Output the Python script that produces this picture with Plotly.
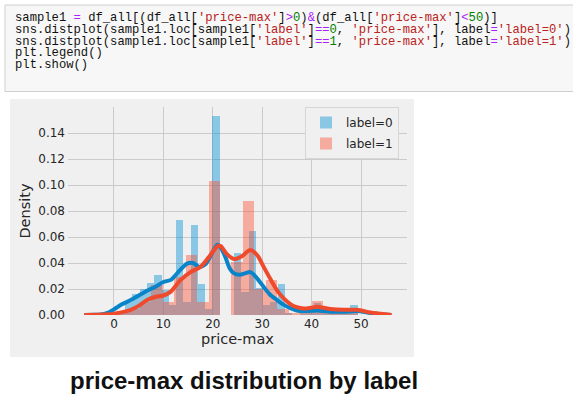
import numpy as np
import plotly.graph_objects as go

# ---------------- data ----------------
series_names = ["label=0", "label=1"]

# histogram of label=0 (density), equal-width bins
blue_bin_start = 0.8
blue_bin_width = 1.47
blue_hist = [0.002, 0.010, 0.016, 0.020, 0.025, 0.031, 0.019, 0.008, 0.073, 0.010,
             0.069, 0.024, 0.005, 0.153, 0.0, 0.0, 0.048, 0.018, 0.065, 0.021,
             0.008, 0.010, 0.024, 0.001, 0.0, 0.001, 0.006, 0.009, 0.002, 0.001,
             0.002, 0.005, 0.008]

# histogram of label=1 (density), equal-width bins
red_bin_start = 0.58
red_bin_width = 2.32
red_hist = [0.002, 0.005, 0.010, 0.023, 0.010, 0.029, 0.046, 0.010, 0.103, 0.0,
            0.041, 0.088, 0.020, 0.027, 0.005, 0.001, 0.002, 0.011, 0.002, 0.003,
            0.005]

# KDE curves
blue_kde_x = [-6, -4, -2, -1, 0, 1.5, 3.4, 5, 6.7, 8.5, 10, 11.5, 13, 14.8, 16, 17.3,
              18.5, 19.5, 20.9, 21.6, 22.5, 23.4, 24.3, 25.5, 26.5, 27.6, 28.8, 30.3,
              31.5, 33, 34.3, 35.7, 37, 38.4, 39.8, 41.1, 42.5, 43.8, 46.5, 49.2,
              51.9, 54, 56]
blue_kde_y = [0, 0.0001, 0.0008, 0.002, 0.0043, 0.008, 0.0115, 0.015, 0.0186, 0.022,
              0.0254, 0.027, 0.033, 0.0395, 0.040, 0.037, 0.039, 0.045, 0.054, 0.052,
              0.045, 0.036, 0.032, 0.031, 0.032, 0.033, 0.029, 0.0216, 0.016, 0.0115,
              0.008, 0.0053, 0.0035, 0.003, 0.0032, 0.0035, 0.003, 0.0025, 0.0025,
              0.003, 0.0015, 0.0005, 0]

red_kde_x = [-6, -3, -1, 0, 1.5, 3.4, 5, 6.7, 8.5, 10, 11.5, 13.5, 15.5, 17.5, 19.2,
             21, 21.6, 22.8, 24.3, 25.8, 27.6, 29, 30.3, 31.6, 33, 34.3, 35.7, 37,
             38.4, 39.8, 41.1, 42.5, 43.8, 46.5, 49.2, 51.9, 54, 56.2]
red_kde_y = [0, 0.0001, 0.0005, 0.001, 0.002, 0.004, 0.007, 0.0115, 0.014, 0.015,
             0.018, 0.027, 0.033, 0.037, 0.0445, 0.053, 0.053, 0.047, 0.043, 0.045,
             0.050, 0.046, 0.037, 0.028, 0.019, 0.013, 0.0084, 0.006, 0.005, 0.0055,
             0.0063, 0.0055, 0.0047, 0.004, 0.004, 0.002, 0.001, 0]

x_ticks = [0, 10, 20, 30, 40, 50]
y_ticks = [0.00, 0.02, 0.04, 0.06, 0.08, 0.10, 0.12, 0.14]
x_title = "price-max"
y_title = "Density"
caption = "price-max distribution by label"

# ---------------- styling / layout ----------------
W, H = 573, 396
AX_L, AX_R, AX_T, AX_B = 68, 407, 107, 315   # plot area in pixels
BLUE, RED = "#008fd5", "#fc4f30"
BLUE_LINE, RED_LINE = "#0a84c8", "#ef4a2c"
PANEL = "#f0f0f0"
GRID = "#cbcbcb"


def px_x(px):
    return (px - AX_L) / (AX_R - AX_L)


def px_y(py):
    return (AX_B - py) / (AX_B - AX_T)


blue_centers = blue_bin_start + blue_bin_width * (np.arange(len(blue_hist)) + 0.5)
red_centers = red_bin_start + red_bin_width * (np.arange(len(red_hist)) + 0.5)

fig = go.Figure()
fig.add_trace(go.Bar(x=blue_centers, y=blue_hist, width=blue_bin_width,
                     marker=dict(color=BLUE, line=dict(width=0)), opacity=0.42,
                     name=series_names[0], legendgroup="a"))
fig.add_trace(go.Scatter(x=blue_kde_x, y=blue_kde_y, mode="lines",
                         line=dict(color=BLUE_LINE, width=4, shape="spline", smoothing=0.8),
                         showlegend=False, legendgroup="a"))
fig.add_trace(go.Bar(x=red_centers, y=red_hist, width=red_bin_width,
                     marker=dict(color=RED, line=dict(width=0)), opacity=0.42,
                     name=series_names[1], legendgroup="b"))
fig.add_trace(go.Scatter(x=red_kde_x, y=red_kde_y, mode="lines",
                         line=dict(color=RED_LINE, width=4, shape="spline", smoothing=0.8),
                         showlegend=False, legendgroup="b"))

tick_font = dict(family="DejaVu Sans", size=12, color="#262626")

fig.update_layout(
    width=W, height=H,
    margin=dict(l=AX_L, r=W - AX_R, t=AX_T, b=H - AX_B, pad=0),
    paper_bgcolor="white",
    plot_bgcolor="rgba(0,0,0,0)",
    barmode="overlay",
    bargap=0,
    showlegend=True,
    legend=dict(x=px_x(305), y=px_y(107), xanchor="left", yanchor="top",
                bgcolor=PANEL, bordercolor="#d6d6d6", borderwidth=1,
                font=dict(family="DejaVu Sans", size=12, color="#262626"),
                itemwidth=30, tracegroupgap=2),
    xaxis=dict(range=[-9.3, 59.3], tickvals=x_ticks, ticktext=[str(v) for v in x_ticks],
               showgrid=True, gridcolor=GRID, gridwidth=1, zeroline=False,
               showline=False, ticks="", tickfont=tick_font,
               title=dict(text=x_title, standoff=3,
                          font=dict(family="DejaVu Sans", size=14.5, color="#262626"))),
    yaxis=dict(range=[0, 0.16], tickvals=y_ticks, ticktext=[f"{v:.2f}" for v in y_ticks],
               showgrid=True, gridcolor=GRID, gridwidth=1, zeroline=False,
               showline=False, ticks="", tickfont=tick_font, ticklabelstandoff=2,
               title=dict(text=y_title, standoff=4,
                          font=dict(family="DejaVu Sans", size=14.5, color="#262626"))),
)

# panel behind the chart (notebook output image) and code cell box
fig.add_shape(type="rect", xref="paper", yref="paper", layer="below",
              x0=px_x(10), x1=px_x(414), y0=px_y(357), y1=px_y(99),
              fillcolor=PANEL, line=dict(width=0))
fig.add_shape(type="rect", xref="paper", yref="paper", layer="below",
              x0=px_x(5), x1=px_x(580), y0=px_y(91.5), y1=px_y(5),
              fillcolor="#f7f7f7", line=dict(color="#cfcfcf", width=1))

# code text with notebook-like syntax colours
def S(t):
    return f"<span style='color:#ba2121'>{t}</span>"


def N(t):
    return f"<span style='color:#008000'>{t}</span>"


def O(t):
    return f"<span style='color:#aa22ff'>{t}</span>"


code_lines = [
    "sample1 " + O("=") + " df_all[(df_all[" + S("'price-max'") + "]" + O("&gt;") + N("0") + ")"
    + O("&amp;") + "(df_all[" + S("'price-max'") + "]" + O("&lt;") + N("50") + ")]",
    "sns.distplot(sample1.loc[sample1[" + S("'label'") + "]" + O("==") + N("0") + ", "
    + S("'price-max'") + "], label" + O("=") + S("'label=0'") + ")",
    "sns.distplot(sample1.loc[sample1[" + S("'label'") + "]" + O("==") + N("1") + ", "
    + S("'price-max'") + "], label" + O("=") + S("'label=1'") + ")",
    "plt.legend()",
    "plt.show()",
]
code_y = [18.3, 30.0, 41.7, 53.3, 65.0]
for line, yy in zip(code_lines, code_y):
    fig.add_annotation(text=line, xref="paper", yref="paper", x=px_x(12.5), y=px_y(yy),
                       xanchor="left", yanchor="middle", showarrow=False,
                       font=dict(family="Liberation Mono", size=12.2, color="#111111"))

fig.add_annotation(text=f"<b>{caption}</b>", xref="paper", yref="paper",
                   x=px_x(244), y=px_y(380), xanchor="center", yanchor="middle",
                   showarrow=False,
                   font=dict(family="Liberation Sans", size=24, color="#111111"))

fig.write_html(
    "out.html",
    config={"displayModeBar": False},
    post_script="document.body.style.margin='0';document.body.style.padding='0';"
                "document.body.style.overflow='hidden';",
)
